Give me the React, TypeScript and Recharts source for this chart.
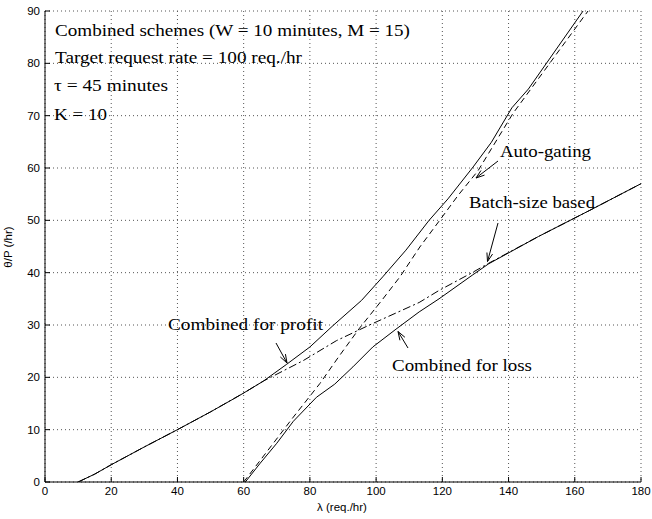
import React from 'react';
import { LineChart, Line, XAxis, YAxis, CartesianGrid } from 'recharts';

// points: [lambda (req./hr), theta/P (/hr)]
const profitPts: [number, number][] = [
  [10, 0], [15, 1.5], [20, 3.3], [30, 6.7], [40, 10], [50, 13.4], [57, 15.9], [60, 17],
  [66, 19.3], [73, 22.5], [80, 25.8], [87, 29.9], [95.6, 34.7], [102, 39.2], [109, 44.3],
  [116, 50], [121.7, 54.1], [129.3, 60.2], [134.8, 64.9], [141, 71.5], [146, 75.1], [162.5, 90],
];
const lossPts: [number, number][] = [
  [60.5, 0], [65, 3.6], [70, 7.4], [75, 11.6], [82, 16.2], [87.5, 18.7], [93, 22], [99, 25.8],
  [106, 29.2], [113, 32.5], [119, 35], [129, 39.5], [134, 41.7], [149, 46.9], [164.5, 51.9], [180, 57],
];
const batchPts: [number, number][] = [
  [10, 0], [15, 1.5], [20, 3.3], [30, 6.7], [40, 10], [50, 13.4], [60, 17], [66, 19.3],
  [78, 23.2], [88, 27], [98, 30], [113, 34.3], [119, 36.6], [129, 40], [134, 41.8],
  [149, 46.9], [164.5, 51.9], [180, 57],
];
const autoPts: [number, number][] = [
  [60, 0], [75, 12.4], [83, 18.8], [89, 24.2], [95, 29.4], [101.7, 34.7], [107.2, 39.2],
  [113.2, 44.9], [119.2, 50], [124.8, 54.8], [130.8, 59.5], [141.3, 70.4], [164, 90],
];

const xTicks = [0, 20, 40, 60, 80, 100, 120, 140, 160, 180];
const yTicks = [0, 10, 20, 30, 40, 50, 60, 70, 80, 90];

const toRows = (pts: [number, number][]) => pts.map(([x, y]) => ({ x, y }));

const tickFont = { fontFamily: 'Liberation Sans, Arial, sans-serif', fontSize: 11.5, fill: '#000' };
const serif = 'Liberation Serif, Times New Roman, serif';

const Arrow = ({ x1, y1, x2, y2 }: { x1: number; y1: number; x2: number; y2: number }) => {
  const a = Math.atan2(y2 - y1, x2 - x1);
  const len = 9;
  const s = 0.33;
  const p1 = [x2 - len * Math.cos(a - s), y2 - len * Math.sin(a - s)];
  const p2 = [x2 - len * Math.cos(a + s), y2 - len * Math.sin(a + s)];
  return (
    <g stroke="#000" strokeWidth={1} fill="none">
      <line x1={x1} y1={y1} x2={x2} y2={y2} />
      <polyline points={`${p1[0]},${p1[1]} ${x2},${y2} ${p2[0]},${p2[1]}`} />
    </g>
  );
};

const Txt = ({ x, y, w, children }: { x: number; y: number; w: number; children: React.ReactNode }) => (
  <text x={x} y={y} fontFamily={serif} fontSize={17.5} fill="#000" textLength={w} lengthAdjust="spacingAndGlyphs">
    {children}
  </text>
);

export default function App() {
  return (
    <div style={{ position: 'absolute', left: 0, top: 0, width: 652, height: 519, background: '#fff' }}>
      <LineChart width={652} height={519} margin={{ top: 11, right: 11, left: 0, bottom: 0 }}>
        <CartesianGrid stroke="#555" strokeDasharray="1 3" />
        <XAxis
          dataKey="x"
          type="number"
          domain={[0, 180]}
          ticks={xTicks}
          height={37}
          tickSize={-5}
          tickMargin={10}
          tick={tickFont}
          stroke="#000"
          allowDataOverflow
        />
        <XAxis
          xAxisId="top"
          orientation="top"
          type="number"
          domain={[0, 180]}
          ticks={xTicks}
          height={0}
          tickSize={-5}
          tick={false}
          stroke="#000"
          allowDataOverflow
        />
        <YAxis
          type="number"
          domain={[0, 90]}
          ticks={yTicks}
          width={45}
          tickSize={-5}
          tickMargin={10}
          tick={tickFont}
          stroke="#000"
          allowDataOverflow
        />
        <YAxis
          yAxisId="right"
          orientation="right"
          type="number"
          domain={[0, 90]}
          ticks={yTicks}
          width={0}
          tickSize={-5}
          tick={false}
          stroke="#000"
          allowDataOverflow
        />
        <Line data={toRows(batchPts)} dataKey="y" type="linear" stroke="#000" strokeWidth={1} strokeDasharray="8 3 2 3" dot={false} isAnimationActive={false} />
        <Line data={toRows(autoPts)} dataKey="y" type="linear" stroke="#000" strokeWidth={1} strokeDasharray="6 4" dot={false} isAnimationActive={false} />
        <Line data={toRows(profitPts)} dataKey="y" type="linear" stroke="#000" strokeWidth={1} dot={false} isAnimationActive={false} />
        <Line data={toRows(lossPts)} dataKey="y" type="linear" stroke="#000" strokeWidth={1} dot={false} isAnimationActive={false} />
      </LineChart>
      <svg width={652} height={519} style={{ position: 'absolute', left: 0, top: 0, pointerEvents: 'none' }}>
        <Txt x={55} y={36} w={355}>Combined schemes (W = 10 minutes, M = 15)</Txt>
        <Txt x={55} y={63} w={247}>Target request rate = 100 req./hr</Txt>
        <Txt x={54} y={91} w={114}>τ = 45 minutes</Txt>
        <Txt x={54} y={120} w={53}>K = 10</Txt>
        <Txt x={500} y={157} w={91}>Auto-gating</Txt>
        <Txt x={469} y={208} w={126}>Batch-size based</Txt>
        <Txt x={168} y={330} w={155}>Combined for profit</Txt>
        <Txt x={392} y={371} w={140}>Combined for loss</Txt>
        <Arrow x1={276} y1={343} x2={287} y2={363} />
        <Arrow x1={408} y1={348} x2={398} y2={331.5} />
        <Arrow x1={498} y1={161} x2={476} y2={178} />
        <Arrow x1={498} y1={223} x2={487.5} y2={261.5} />
        <text x={342} y={511} textAnchor="middle" fontFamily="Liberation Sans, Arial, sans-serif" fontSize={11.5} fill="#000">
          λ (req./hr)
        </text>
        <text
          x={0}
          y={0}
          transform="translate(12,247) rotate(-90)"
          textAnchor="middle"
          fontFamily="Liberation Sans, Arial, sans-serif"
          fontSize={11.5}
          fill="#000"
        >
          θ/P (/hr)
        </text>
      </svg>
    </div>
  );
}
